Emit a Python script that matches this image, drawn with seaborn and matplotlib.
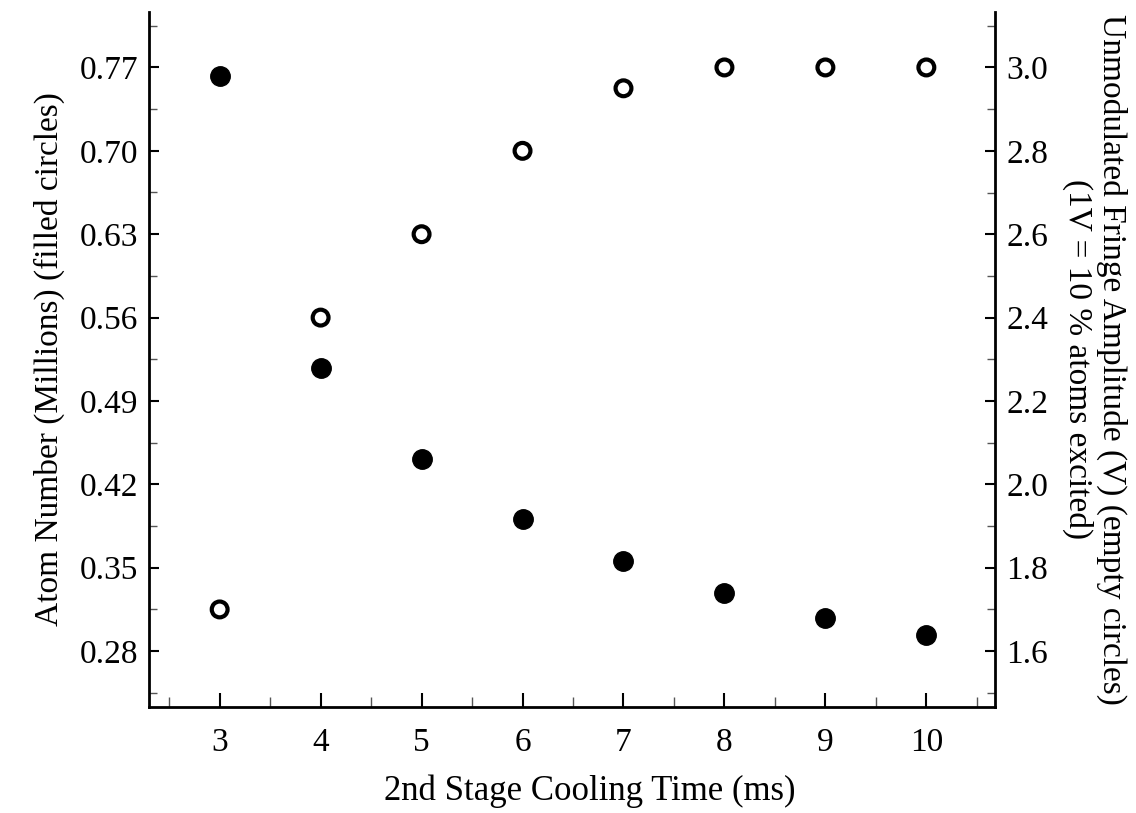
import pandas as pd
import matplotlib
matplotlib.use("Agg")
import matplotlib.pyplot as plt
import seaborn as sns
from matplotlib.ticker import MultipleLocator

# Data
cooling_time = [3, 4, 5, 6, 7, 8, 9, 10]
atom_number = [0.7625, 0.5175, 0.441, 0.391, 0.3555, 0.3287, 0.3077, 0.2934]
fringe_amp = [1.70, 2.40, 2.60, 2.80, 2.95, 3.00, 3.00, 3.00]

df = pd.DataFrame({"time": cooling_time, "atoms": atom_number, "fringe": fringe_amp})

sns.set_style("ticks", {"axes.edgecolor": "black", "text.color": "black",
                        "xtick.color": "black", "ytick.color": "black",
                        "axes.labelcolor": "black"})
plt.rcParams["font.family"] = ["Liberation Serif", "DejaVu Serif"]

fig = plt.figure(figsize=(11.36, 8.13), dpi=100)
ax = fig.add_axes([149 / 1136, 1 - 707 / 813, (995 - 149) / 1136, (707 - 12) / 813])
ax2 = ax.twinx()

# filled circles -> atom number (left axis)
sns.scatterplot(data=df, x="time", y="atoms", ax=ax, s=196, color="black",
                edgecolor="black", linewidth=1, zorder=3)
# empty circles -> fringe amplitude (right axis)
sns.scatterplot(data=df, x="time", y="fringe", ax=ax2, s=130, facecolor="none",
                edgecolor="black", linewidth=3, zorder=3)

ax.set_xlim(2.3, 10.68)
ax.set_ylim(0.233, 0.8165)
ax2.set_ylim(1.466, 3.133)

ax.set_xticks(cooling_time)
ax.xaxis.set_minor_locator(MultipleLocator(0.5))
ax.set_yticks([0.28, 0.35, 0.42, 0.49, 0.56, 0.63, 0.70, 0.77])
ax.set_yticklabels(["0.28", "0.35", "0.42", "0.49", "0.56", "0.63", "0.70", "0.77"])
ax.yaxis.set_minor_locator(MultipleLocator(0.035))
ax2.set_yticks([1.6, 1.8, 2.0, 2.2, 2.4, 2.6, 2.8, 3.0])
ax2.yaxis.set_minor_locator(MultipleLocator(0.1))

for a in (ax, ax2):
    a.spines["top"].set_visible(False)
    for s in ("left", "right", "bottom"):
        a.spines[s].set_linewidth(2)
        a.spines[s].set_color("black")
    a.tick_params(which="major", direction="in", width=1.5, labelsize=24, colors="black")
    a.tick_params(which="minor", direction="in", width=1, color="#555555")
ax.spines["right"].set_visible(False)
ax2.spines["left"].set_visible(False)
ax2.spines["bottom"].set_visible(False)

ax.tick_params(axis="x", which="major", length=10, pad=15)
ax.tick_params(axis="x", which="minor", length=7)
ax.tick_params(axis="y", which="major", length=7, pad=8)
ax.tick_params(axis="y", which="minor", length=6)
ax2.tick_params(axis="y", which="major", length=7, pad=8)
ax2.tick_params(axis="y", which="minor", length=6)

ax.set_xlabel("2nd Stage Cooling Time (ms)", fontsize=25, color="black")
ax.xaxis.set_label_coords(0.521, -0.097)
ax.set_ylabel("Atom Number (Millions) (filled circles)", fontsize=24, labelpad=10, color="black")
ax2.set_ylabel("Unmodulated Fringe Amplitude (V) (empty circles)\n(1V = 10 % atoms excited)",
               fontsize=24, rotation=270, va="bottom", ha="center", multialignment="center",
               labelpad=10, linespacing=1.1, color="black")

fig.savefig("out.png", dpi=100)
